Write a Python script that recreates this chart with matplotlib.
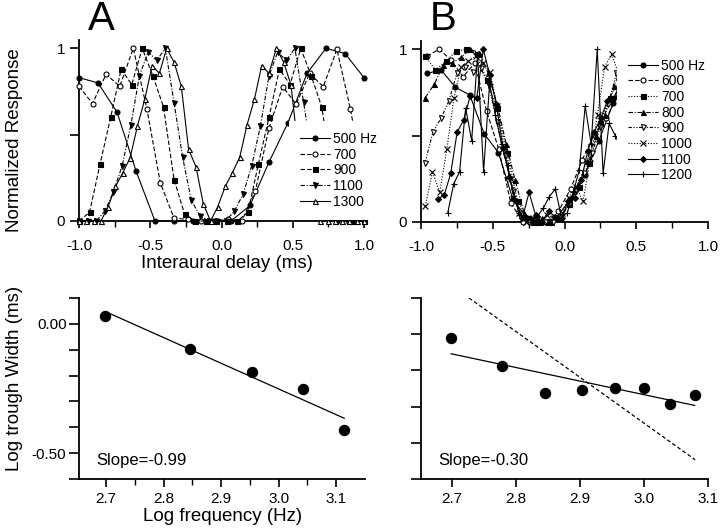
import numpy as np
import matplotlib
matplotlib.use('Agg')
import matplotlib.pyplot as plt

plt.rcParams['font.family'] = ['Liberation Sans', 'DejaVu Sans']
plt.rcParams['axes.unicode_minus'] = False

# ---------------- Panel A (top): normalized ITD curves ----------------
a500_x = [-1.0, -0.867, -0.733, -0.6, -0.467, -0.333, -0.2, -0.067, 0.067, 0.2, 0.333, 0.467, 0.6, 0.733, 0.867, 1.0]
a500_y = [0.83, 0.80, 0.63, 0.29, 0.0, 0.0, 0.0, 0.0, 0.0, 0.09, 0.34, 0.57, 0.855, 1.0, 0.97, 0.83]

a700_x = [-1.0, -0.905, -0.810, -0.714, -0.619, -0.524, -0.429, -0.333, -0.238, -0.143, -0.048, 0.048, 0.143,
          0.238, 0.333, 0.429, 0.524, 0.619, 0.714, 0.810, 0.905, 1.0]
a700_y = [0.78, 0.68, 0.85, 0.78, 1.0, 0.65, 0.22, 0.016, 0.01, 0.0, 0.0, 0.01, 0.0,
          0.175, 0.537, 0.778, 0.677, 0.855, 0.778, 0.994, 0.647, 0.22]

a900_x = [-1.0, -0.926, -0.852, -0.778, -0.704, -0.630, -0.556, -0.481, -0.407, -0.333, -0.259, -0.185, -0.111, -0.037,
          0.037, 0.111, 0.185, 0.259, 0.333, 0.407, 0.481, 0.556, 0.630, 0.704, 0.778, 0.852, 0.926, 1.0]
a900_y = [0.0, 0.05, 0.33, 0.60, 0.88, 0.79, 1.0, 0.84, 0.66, 0.24, 0.04, 0.0, 0.0, 0.0,
          0.0, 0.0, 0.05, 0.33, 0.60, 0.88, 0.79, 1.0, 0.84, 0.66, 0.24, 0.04, 0.0, 0.0]

a1100_x = [-1.0, -0.939, -0.879, -0.818, -0.758, -0.697, -0.636, -0.576, -0.515, -0.455, -0.394, -0.333, -0.273,
           -0.212, -0.152, -0.091, -0.030, 0.030, 0.091, 0.152, 0.212, 0.273, 0.333, 0.394, 0.455, 0.515, 0.576,
           0.636, 0.697, 0.758, 0.818, 0.879, 0.939, 1.0]
a1100_y = [0.0, 0.0, 0.0, 0.058, 0.17, 0.32, 0.556, 0.84, 0.98, 0.93, 1.0, 0.685, 0.37,
           0.12, 0.03, 0.0, 0.0, 0.0, 0.058, 0.156, 0.32, 0.55, 0.84, 0.977, 0.93, 1.0, 0.687,
           0.37, 0.12, 0.03, 0.0, 0.0, 0.0, 0.0]

a1300_x = [-1.0, -0.949, -0.897, -0.846, -0.795, -0.744, -0.692, -0.641, -0.590, -0.538, -0.487, -0.436, -0.385,
           -0.333, -0.282, -0.231, -0.179, -0.128, -0.077, -0.026, 0.026, 0.077, 0.128, 0.179, 0.231, 0.282,
           0.333, 0.385, 0.436, 0.487, 0.538, 0.590, 0.641, 0.692, 0.744, 0.795, 0.846, 0.897, 0.949, 1.0]
a1300_y = [0.0, 0.0, 0.0, 0.0, 0.083, 0.20, 0.28, 0.367, 0.55, 0.706, 0.90, 0.855, 1.0,
           0.92, 0.78, 0.415, 0.314, 0.10, 0.0, 0.083, 0.20, 0.28, 0.37, 0.556, 0.705, 0.90,
           0.855, 1.0, 0.92, 0.79, 0.415, 0.31, 0.10, 0.0, 0.0, 0.0, 0.0, 0.0, 0.0, 0.0]

# ---------------- Panel B (top) ----------------
b500_x = [-0.96, -0.86, -0.76, -0.66, -0.56, -0.46, -0.36, -0.26, -0.16, -0.06, 0.04, 0.14, 0.24, 0.34, 0.44]
b500_y = [0.86, 0.88, 0.78, 0.735, 0.51, 0.40, 0.13, 0.02, 0.0, 0.02, 0.13, 0.27, 0.47, 0.69, 0.86]

b600_x = [-0.958, -0.875, -0.792, -0.708, -0.625, -0.542, -0.458, -0.375, -0.292, -0.208, -0.125, -0.042,
          0.042, 0.125, 0.208, 0.292, 0.375, 0.458]
b600_y = [0.96, 1.0, 0.94, 0.84, 0.92, 0.64, 0.42, 0.11, 0.0, 0.02, 0.0, 0.06,
          0.19, 0.36, 0.51, 0.60, 0.74, 0.88]

b700_x = [-0.97, -0.899, -0.827, -0.756, -0.684, -0.613, -0.541, -0.470, -0.399, -0.327, -0.256, -0.184, -0.113,
          -0.041, 0.030, 0.101, 0.173, 0.244, 0.316, 0.387, 0.459]
b700_y = [0.96, 0.88, 0.93, 0.99, 1.0, 0.97, 0.82, 0.66, 0.40, 0.12, 0.02, 0.0, 0.0,
          0.02, 0.10, 0.20, 0.34, 0.57, 0.72, 0.82, 0.95]

b800_x = [-0.97, -0.906, -0.844, -0.781, -0.719, -0.656, -0.594, -0.531, -0.469, -0.406, -0.344, -0.281, -0.219,
          -0.156, -0.094, -0.031, 0.031, 0.094, 0.156, 0.219, 0.281, 0.344, 0.406]
b800_y = [0.72, 0.80, 0.91, 0.92, 0.955, 1.0, 0.98, 0.86, 0.68, 0.45, 0.24, 0.05, 0.0,
          0.02, 0.0, 0.02, 0.10, 0.22, 0.35, 0.50, 0.62, 0.79, 0.90]

b900_x = [-0.972, -0.917, -0.861, -0.806, -0.750, -0.694, -0.639, -0.583, -0.528, -0.472, -0.417, -0.361, -0.306,
          -0.250, -0.194, -0.139, -0.083, -0.028, 0.028, 0.083, 0.139, 0.194, 0.250, 0.306, 0.361, 0.417]
b900_y = [0.34, 0.52, 0.60, 0.70, 0.86, 0.90, 0.87, 0.89, 0.79, 0.58, 0.38, 0.18, 0.02,
          0.0, 0.02, 0.0, 0.0, 0.03, 0.10, 0.18, 0.28, 0.40, 0.55, 0.68, 0.86, 0.80]

b1000_x = [-0.97, -0.92, -0.87, -0.82, -0.77, -0.72, -0.67, -0.62, -0.57, -0.52, -0.47, -0.42, -0.37, -0.32,
           -0.27, -0.22, -0.17, -0.12, -0.07, -0.02, 0.03, 0.08, 0.13, 0.18, 0.23, 0.28, 0.33, 0.38, 0.43]
b1000_y = [0.09, 0.29, 0.17, 0.42, 0.72, 0.90, 0.93, 0.96, 0.92, 0.87, 0.67, 0.43, 0.25, 0.05,
           0.0, 0.02, 0.0, 0.04, 0.02, 0.05, 0.14, 0.20, 0.12, 0.37, 0.62, 0.90, 0.97, 0.85, 0.45]

b1100_x = [-0.884, -0.838, -0.793, -0.748, -0.702, -0.657, -0.611, -0.566, -0.520, -0.475, -0.429, -0.384,
           -0.338, -0.293, -0.247, -0.202, -0.157, -0.111, -0.066, -0.020, 0.025, 0.071, 0.116, 0.162, 0.207,
           0.253, 0.298, 0.344, 0.389]
b1100_y = [0.13, 0.155, 0.28, 0.52, 0.59, 0.73, 0.72, 1.0, 0.85, 0.68, 0.43, 0.26,
           0.12, 0.02, 0.17, 0.04, 0.0, 0.06, 0.03, 0.02, 0.12, 0.14, 0.24, 0.41, 0.52,
           0.60, 0.70, 0.72, 0.80]

b1200_x = [-0.814, -0.772, -0.731, -0.689, -0.647, -0.606, -0.564, -0.522, -0.481, -0.439, -0.397, -0.356,
           -0.314, -0.272, -0.231, -0.189, -0.147, -0.106, -0.064, -0.022, 0.019, 0.061, 0.103, 0.144, 0.186,
           0.228, 0.269, 0.311, 0.353, 0.394, 0.436]
b1200_y = [0.05, 0.22, 0.29, 0.66, 0.47, 0.97, 0.29, 0.80, 0.62, 0.45, 0.33, 0.15,
           0.05, 0.02, 0.0, 0.03, 0.08, 0.145, 0.19, 0.03, 0.05, 0.17, 0.30, 0.67, 0.45,
           1.0, 0.28, 0.57, 0.50, 0.43, 0.30]

# ---------------- Bottom panels: trough width vs frequency ----------------
freqA = [500, 700, 900, 1100, 1300]
logwidthA = [0.032, -0.097, -0.187, -0.251, -0.412]
freqB = [500, 600, 700, 800, 900, 1000, 1100, 1200]
logwidthB = [0.013, -0.048, -0.107, -0.101, -0.097, -0.097, -0.132, -0.111]
ref_slope = -1.0
ref_intercept = 2.827
ref_x = [2.727, 3.08]

slope_labels = ['Slope=-0.99', 'Slope=-0.30']

# ---------------- Figure ----------------
W, H = 720, 532
fig = plt.figure(figsize=(W / 100, H / 100), dpi=100)

def rect(x0, x1, ytop, ybot):
    return [x0 / W, 1 - ybot / H, (x1 - x0) / W, (ybot - ytop) / H]

axA = fig.add_axes(rect(79, 364, 39.7, 221))
axB = fig.add_axes(rect(421, 708, 40.7, 221.7))
axC = fig.add_axes(rect(79, 365, 298, 479))
axD = fig.add_axes(rect(421, 708, 298, 479))

TICK_FS = 11
LW = 0.8
MS = 3.6

def base_spines(ax):
    for s in ['top', 'right']:
        ax.spines[s].set_visible(False)
    for s in ['left', 'bottom']:
        ax.spines[s].set_linewidth(1.3)

dash = (0, (4, 2))
dot = (0, (1, 1.5))
dashdot = (0, (4, 1.5, 1, 1.5))
dashdotdot = (0, (3, 1.5, 1, 1.5, 1, 1.5))

seriesA = [
    (a500_x, a500_y, '500 Hz', '-', 'o', 'k'),
    (a700_x, a700_y, '700', dash, 'o', 'w'),
    (a900_x, a900_y, '900', dash, 's', 'k'),
    (a1100_x, a1100_y, '1100', dashdot, 'v', 'k'),
    (a1300_x, a1300_y, '1300', '-', '^', 'w'),
]
seriesB = [
    (b500_x, b500_y, '500 Hz', '-', 'o', 'k'),
    (b600_x, b600_y, '600', dash, 'o', 'w'),
    (b700_x, b700_y, '700', dot, 's', 'k'),
    (b800_x, b800_y, '800', dashdot, '^', 'k'),
    (b900_x, b900_y, '900', dashdotdot, 'v', 'w'),
    (b1000_x, b1000_y, '1000', dot, 'x', 'k'),
    (b1100_x, b1100_y, '1100', '-', 'D', 'k'),
    (b1200_x, b1200_y, '1200', '-', '+', 'k'),
]

def draw_top(ax, series, legend_anchor):
    handles = []
    for x, y, lab, ls, mk, fc in series:
        ms = MS
        if mk == 'D':
            ms = 3.0
        if mk in ('x', '+'):
            ms = 4.5
        ln, = ax.plot(x, y, color='k', lw=LW, ls=ls, marker=mk, ms=ms, mfc=fc, mec='k',
                      mew=0.8, clip_on=False, zorder=3, label=lab)
        handles.append(ln)
    ax.set_xlim(-1.0, 1.0)
    ax.set_ylim(0, 1.05)
    ax.set_xticks([-1.0, -0.5, 0.0, 0.5, 1.0])
    ax.set_xticklabels(['-1.0', '-0.5', '0.0', '0.5', '1.0'])
    ax.set_xticks([-0.75, -0.25, 0.25, 0.75], minor=True)
    ax.set_yticks([0, 0.5, 1.0])
    ax.set_yticklabels(['0', '', '1'])
    base_spines(ax)
    ax.tick_params(axis='x', which='major', direction='out', length=5, width=1.2,
                   labelsize=TICK_FS, pad=8)
    ax.tick_params(axis='x', which='minor', direction='out', length=4, width=1.0)
    ax.tick_params(axis='y', which='major', direction='out', length=6.5, width=1.2,
                   labelsize=TICK_FS, pad=3.5)
    leg = ax.legend(handles=handles, loc='upper left', bbox_to_anchor=legend_anchor,
                    fontsize=10, frameon=True, facecolor='white', edgecolor='none', framealpha=1.0,
                    fancybox=False, handlelength=2.15, handletextpad=0.25, labelspacing=0.12,
                    borderpad=0.8, borderaxespad=0.0, numpoints=1)
    leg.set_zorder(5)

draw_top(axA, seriesA, (0.737, 0.553))
draw_top(axB, seriesB, (0.683, 0.963))

axA.set_ylabel('Normalized Response', fontsize=13.5)
axA.yaxis.set_label_coords(-0.196, 0.447)
axA.set_xlabel('Interaural delay (ms)', fontsize=13.5)
axA.xaxis.set_label_coords(0.519, -0.188)

def draw_bottom(ax, freq, logw, xlim, ylim, label):
    lx = np.log10(freq)
    ax.plot(lx, logw, 'o', color='k', ms=7.2, zorder=3, clip_on=False)
    k, b = np.polyfit(lx, logw, 1)
    fx = np.array([lx.min(), lx.max()])
    ax.plot(fx, k * fx + b, color='k', lw=0.9)
    ax.set_xlim(*xlim)
    ax.set_ylim(*ylim)
    base_spines(ax)
    ax.tick_params(axis='x', which='major', direction='out', length=6, width=1.2,
                   labelsize=TICK_FS, pad=3.5)
    ax.tick_params(axis='x', which='minor', direction='out', length=4.5, width=1.0)
    ax.tick_params(axis='y', which='major', direction='out', length=7.5, width=1.2,
                   labelsize=TICK_FS, pad=1.5)
    ax.text(0.06, 0.10, label, transform=ax.transAxes, fontsize=12, va='center', ha='left')

draw_bottom(axC, freqA, logwidthA, (2.653, 3.15), (-0.6, 0.1), slope_labels[0])
axC.set_xticks([2.7, 2.8, 2.9, 3.0, 3.1])
axC.set_xticklabels(['2.7', '2.8', '2.9', '3.0', '3.1'])
axC.set_xticks([2.75, 2.85, 2.95, 3.05], minor=True)
axC.set_yticks([-0.6, -0.5, -0.4, -0.3, -0.2, -0.1, 0.0, 0.1])
axC.set_yticklabels(['', '-0.50', '', '', '', '', '0.00', ''])
axC.set_ylabel('Log trough Width (ms)', fontsize=13.5)
axC.yaxis.set_label_coords(-0.196, 0.558)
axC.set_xlabel('Log frequency (Hz)', fontsize=13.5)
axC.xaxis.set_label_coords(0.502, -0.162)

draw_bottom(axD, freqB, logwidthB, (2.652, 3.1), (-0.295, 0.1), slope_labels[1])
rx = np.array(ref_x)
axD.plot(rx, ref_slope * rx + ref_intercept, color='k', lw=0.9, ls=(0, (3, 2)))
axD.set_xticks([2.7, 2.8, 2.9, 3.0, 3.1])
axD.set_xticklabels(['2.7', '2.8', '2.9', '3.0', '3.1'])
axD.set_yticks(np.linspace(-0.295, 0.1, 6))
axD.set_yticklabels([])

fig.text(101 / W, 1 - 19 / H, 'A', fontsize=29, ha='center', va='center')
fig.text(443 / W, 1 - 19 / H, 'B', fontsize=29, ha='center', va='center')

fig.savefig('out.png', dpi=100)
